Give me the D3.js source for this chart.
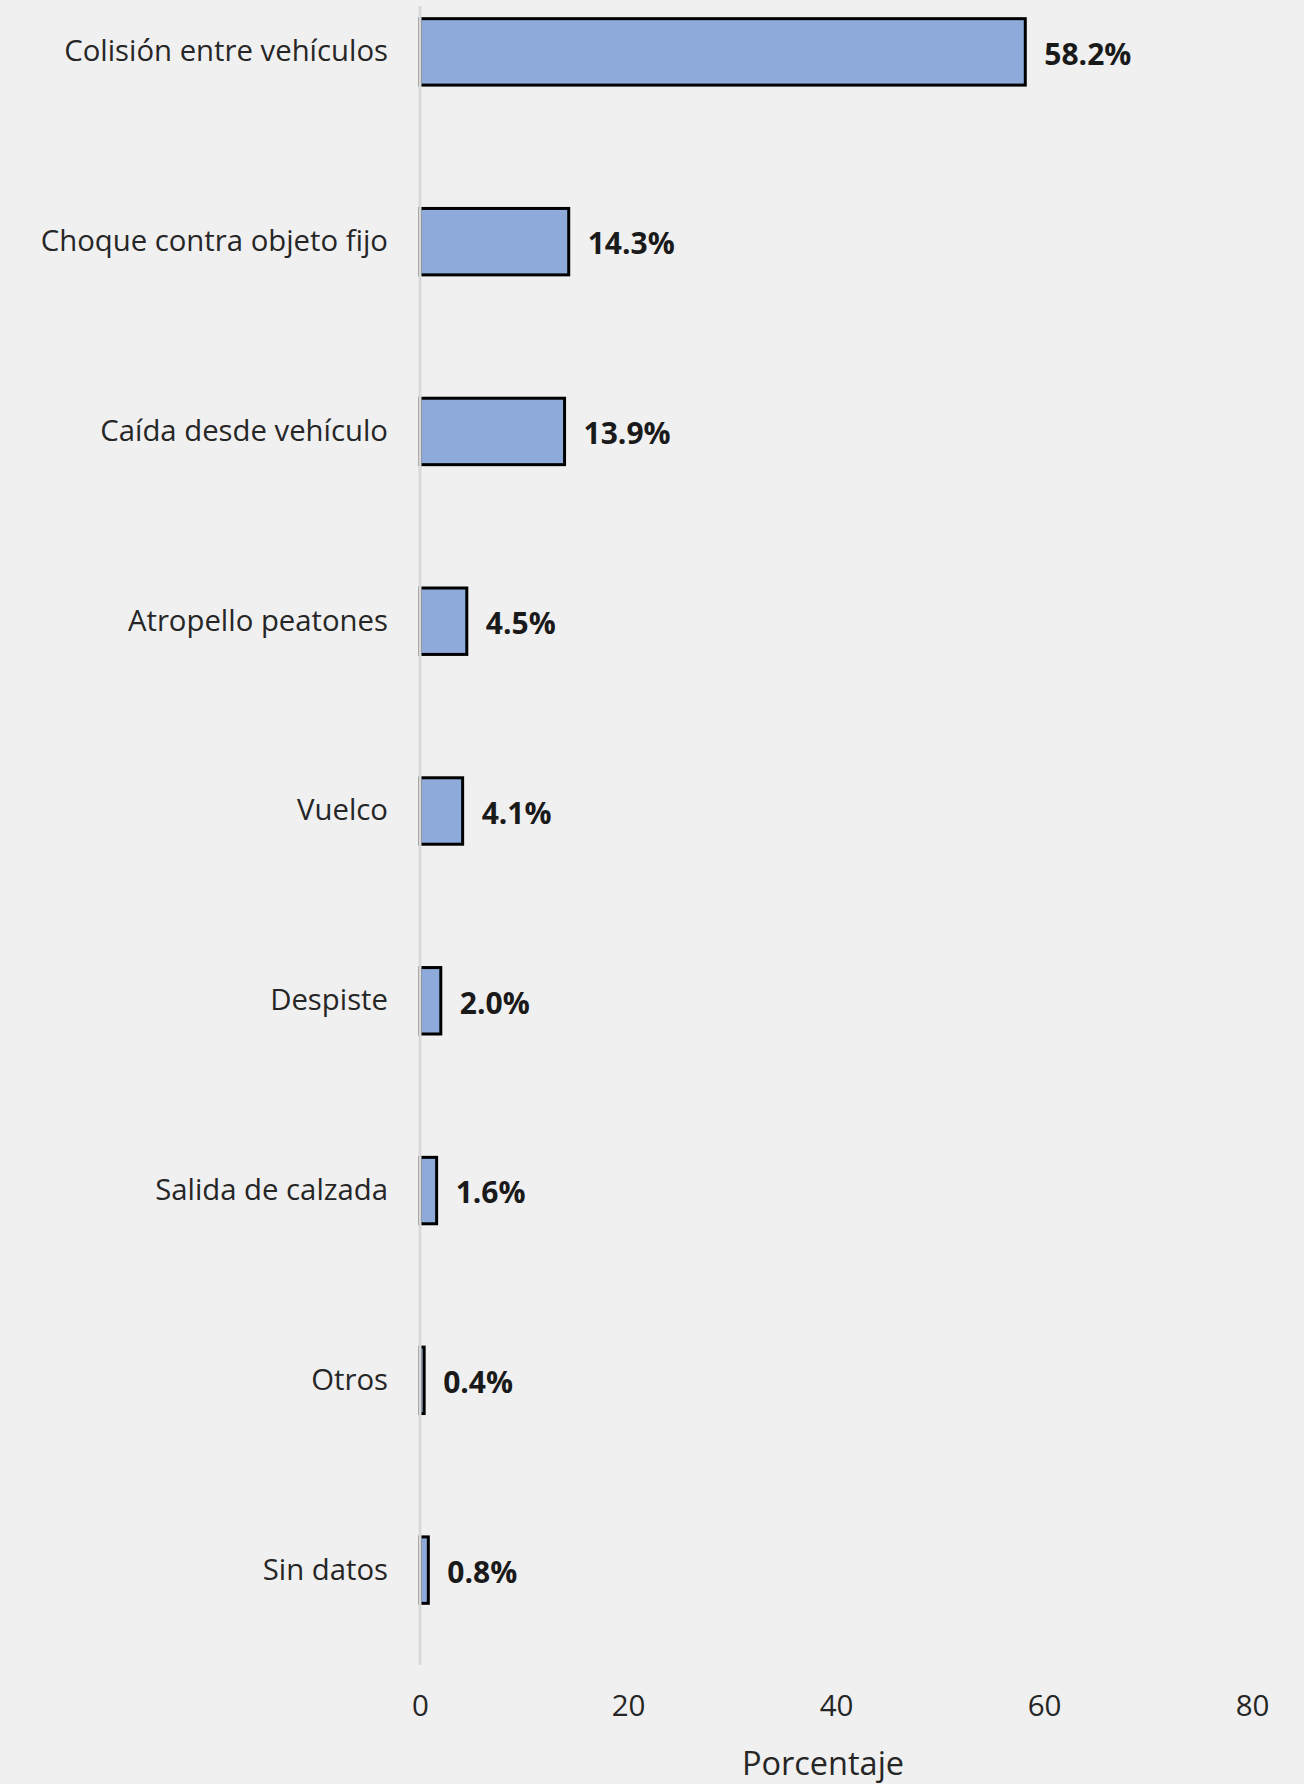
<!DOCTYPE html>
<html>
<head>
<meta charset="utf-8">
<script src="https://cdn.jsdelivr.net/npm/d3@7"></script>
<style>
  html, body { margin: 0; padding: 0; background: #f0f0f0; }
  svg { display: block; }
</style>
</head>
<body>
<script>
const categories = [
  "Colisión entre vehículos",
  "Choque contra objeto fijo",
  "Caída desde vehículo",
  "Atropello peatones",
  "Vuelco",
  "Despiste",
  "Salida de calzada",
  "Otros",
  "Sin datos"
];
const values = [58.2, 14.3, 13.9, 4.5, 4.1, 2.0, 1.6, 0.4, 0.8];
const valueLabels = ["58.2%", "14.3%", "13.9%", "4.5%", "4.1%", "2.0%", "1.6%", "0.4%", "0.8%"];
const xTicks = [0, 20, 40, 60, 80];
const xTitle = "Porcentaje";

const W = 1304, H = 1784;
const font = "'Open Sans', Lato, sans-serif";

const svg = d3.select("body").append("svg").attr("width", W).attr("height", H);
svg.append("rect").attr("width", W).attr("height", H).attr("fill", "#f0f0f0");

const x = d3.scaleLinear().domain([0, 80]).range([420, 1252]);
const y = d3.scaleBand().domain(categories).range([-43, 1665]).paddingInner(0.65).paddingOuter(0.325);

// bars
svg.selectAll("rect.bar").data(values).join("rect")
  .attr("class", "bar")
  .attr("x", x(0))
  .attr("y", (d, i) => y(categories[i]))
  .attr("width", d => x(d) - x(0))
  .attr("height", y.bandwidth())
  .attr("fill", "#8eaadb")
  .attr("stroke", "#000")
  .attr("stroke-width", 3);

// vertical axis line
svg.append("line")
  .attr("x1", x(0)).attr("x2", x(0))
  .attr("y1", 6).attr("y2", 1665)
  .attr("stroke", "#d9d9d9").attr("stroke-width", 3);

// category labels
const yAxis = d3.axisLeft(y).tickSize(0).tickPadding(32);
const gy = svg.append("g").attr("transform", `translate(${x(0)},0)`).call(yAxis);
gy.select(".domain").remove();
gy.selectAll("text")
  .attr("font-family", font).attr("font-size", 29.3).attr("fill", "#262626");

// value labels
svg.selectAll("text.val").data(values).join("text")
  .attr("class", "val")
  .attr("x", d => x(d) + 19)
  .attr("y", (d, i) => y(categories[i]) + y.bandwidth() / 2 + 2)
  .attr("dy", "0.36em")
  .attr("font-family", font).attr("font-size", 30).attr("font-weight", "bold")
  .attr("fill", "#1a1a1a")
  .text((d, i) => valueLabels[i]);

// x axis ticks
const xAxis = d3.axisBottom(x).tickValues(xTicks).tickSize(0).tickPadding(0);
const gx = svg.append("g").attr("transform", `translate(0,1695)`).call(xAxis);
gx.select(".domain").remove();
gx.selectAll("text")
  .attr("font-family", font).attr("font-size", 29.5).attr("fill", "#262626");

svg.append("text")
  .attr("x", 823).attr("y", 1775)
  .attr("text-anchor", "middle")
  .attr("font-family", font).attr("font-size", 32.5).attr("fill", "#262626")
  .text(xTitle);
</script>
</body>
</html>
